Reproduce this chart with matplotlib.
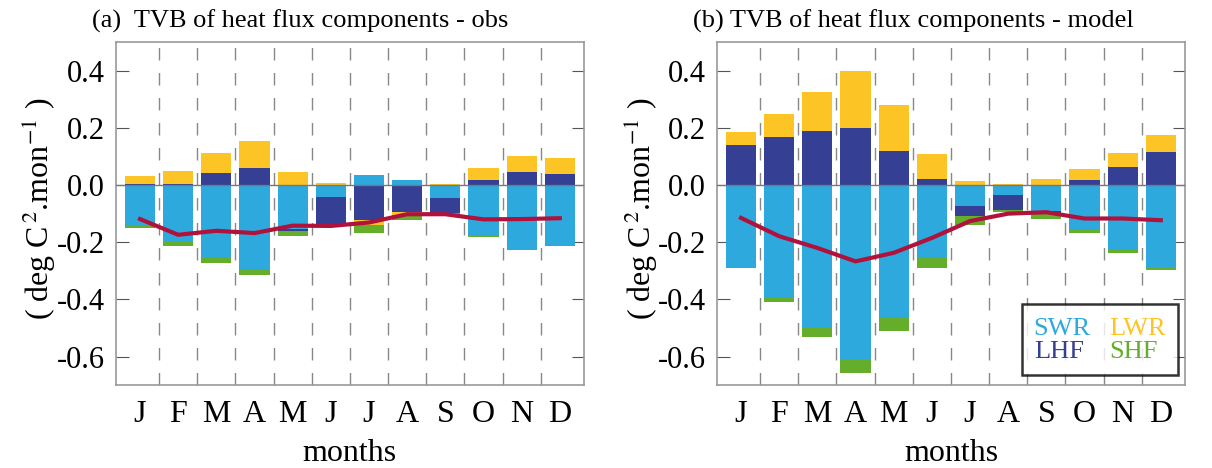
import numpy as np
import matplotlib
matplotlib.use("Agg")
import matplotlib.pyplot as plt

months = ["J", "F", "M", "A", "M", "J", "J", "A", "S", "O", "N", "D"]
names = ["SWR", "LHF", "LWR", "SHF"]
colors = ["#2ea9dd", "#353f93", "#fdc425", "#64ae2b"]

# panel (a) obs
swr_a = [-0.139, -0.198, -0.252, -0.295, -0.155, -0.042, 0.035, 0.019, -0.047, -0.175, -0.225, -0.209]
lhf_a = [0.003, 0.005, 0.041, 0.059, -0.006, -0.094, -0.123, -0.094, -0.050, 0.019, 0.046, 0.040]
lwr_a = [0.028, 0.044, 0.072, 0.095, 0.047, 0.008, -0.017, -0.011, 0.002, 0.041, 0.056, 0.053]
shf_a = [-0.010, -0.015, -0.022, -0.021, -0.018, -0.003, -0.026, -0.018, -0.003, -0.006, -0.003, -0.004]
net_a = [-0.119, -0.174, -0.160, -0.168, -0.142, -0.143, -0.131, -0.102, -0.102, -0.120, -0.119, -0.116]

# panel (b) model
swr_b = [-0.285, -0.395, -0.497, -0.610, -0.462, -0.250, -0.072, -0.036, -0.090, -0.157, -0.222, -0.289]
lhf_b = [0.139, 0.167, 0.188, 0.198, 0.120, 0.022, -0.037, -0.052, -0.010, 0.019, 0.062, 0.115]
lwr_b = [0.045, 0.080, 0.136, 0.200, 0.161, 0.086, 0.014, 0.004, 0.020, 0.037, 0.051, 0.059]
shf_b = [-0.006, -0.015, -0.035, -0.047, -0.050, -0.040, -0.030, -0.008, -0.017, -0.011, -0.014, -0.007]
net_b = [-0.115, -0.179, -0.220, -0.267, -0.237, -0.185, -0.126, -0.100, -0.095, -0.117, -0.117, -0.123]

plt.rcParams['font.family'] = ['Liberation Serif', 'DejaVu Serif']
plt.rcParams['mathtext.fontset'] = 'stix'

fig = plt.figure(figsize=(12.12, 4.68), dpi=100)
ax1 = fig.add_axes([0.0957, 0.177, 0.386, 0.733])
ax2 = fig.add_axes([0.5916, 0.177, 0.386, 0.733])

def panel(ax, comps, net):
    x = np.arange(12)
    pos = np.zeros(12)
    neg = np.zeros(12)
    for vals, c in zip(comps, colors):
        v = np.array(vals)
        base = np.where(v >= 0, pos, neg)
        ax.bar(x, v, 0.79, bottom=base, color=c, zorder=2)
        pos = pos + np.where(v >= 0, v, 0)
        neg = neg + np.where(v < 0, v, 0)
    ax.plot(x, net, color="#b0123c", lw=3, zorder=4)
    ax.axhline(0, color="#777777", lw=1, zorder=3)
    for b in np.arange(11) + 0.5:
        ax.axvline(b, color="#888888", lw=1, ls=(0, (9, 9)), zorder=1)
    ax.set_xlim(-0.63, 11.63)
    ax.set_ylim(-0.7, 0.5)
    ax.set_yticks([0.4, 0.2, 0.0, -0.2, -0.4, -0.6])
    ax.set_yticklabels(["0.4", "0.2", "0.0", "-0.2", "-0.4", "-0.6"], fontsize=22)
    ax.set_xticks(x)
    ax.set_xticklabels(months, fontsize=23)
    ax.set_xticks(np.arange(11) + 0.5, minor=True)
    ax.tick_params(axis='x', which='major', length=0, pad=11)
    ax.tick_params(axis='x', which='minor', direction='in', length=8, color="#888888")
    ax.tick_params(axis='y', direction='in', length=9, right=True, color="#555555", pad=8)
    for s in ax.spines.values():
        s.set_color("#999999")
        s.set_linewidth(1.2)
    ax.set_xlabel("months", fontsize=23, labelpad=7)

panel(ax1, [swr_a, lhf_a, lwr_a, shf_a], net_a)
panel(ax2, [swr_b, lhf_b, lwr_b, shf_b], net_b)

ylab = r"( deg C$^{\,2}$.mon$^{-1}$ )"
fig.text(0.032, 0.555, ylab, rotation=90, ha='center', va='center', fontsize=23)
fig.text(0.529, 0.555, ylab, rotation=90, ha='center', va='center', fontsize=23)

fig.text(92 / 1212, 1 - 28 / 468, "(a)  TVB of heat flux components - obs", fontsize=19, va='baseline')
fig.text(693 / 1212, 1 - 28 / 468, "(b) TVB of heat flux components - model", fontsize=19, va='baseline')

handles = [plt.Line2D([], [], color=c, lw=0) for c in colors]
leg = ax2.legend(handles, names, ncol=2, loc='lower right', bbox_to_anchor=(0.985, 0.03),
                 handlelength=0, handletextpad=0, columnspacing=0.7, labelcolor=colors,
                 fontsize=19, frameon=True, fancybox=False, borderpad=0.45, labelspacing=0.0,
                 borderaxespad=0)
leg.get_frame().set_edgecolor("black")
leg.get_frame().set_linewidth(1.8)

fig.savefig("out.png", dpi=100)
